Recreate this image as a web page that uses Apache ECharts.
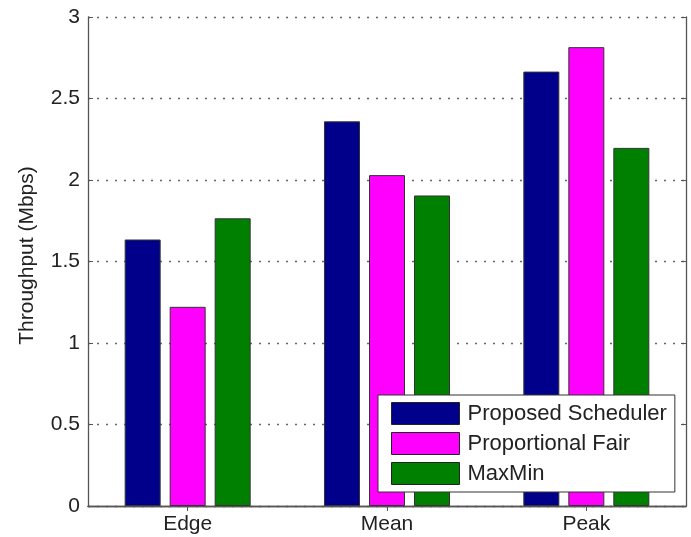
<!DOCTYPE html>
<html>
<head>
<meta charset="utf-8">
<script src="https://cdn.jsdelivr.net/npm/echarts@6/dist/echarts.min.js"></script>
<style>
html,body{margin:0;padding:0;background:#fff;}
#chart{width:691px;height:537px;}
</style>
</head>
<body>
<div id="chart"></div>
<script>
const categories = ['Edge', 'Mean', 'Peak'];
const seriesNames = ['Proposed Scheduler', 'Proportional Fair', 'MaxMin'];
const proposed = [1.635, 2.36, 2.665];
const propFair = [1.222, 2.03, 2.815];
const maxMin = [1.765, 1.905, 2.197];
const yTicks = [0, 0.5, 1, 1.5, 2, 2.5, 3];
const colors = ['#00008B', '#FF00FF', '#008000'];

const font = "'Liberation Sans', Arial, sans-serif";
const chart = echarts.init(document.getElementById('chart'), null, {renderer: 'canvas'});

const values = [proposed, propFair, maxMin];
const series = seriesNames.map((name, i) => ({
  name: name,
  type: 'bar',
  xAxisIndex: 0,
  yAxisIndex: 0,
  data: values[i],
  barWidth: 36,
  barGap: '25%',
  itemStyle: {color: colors[i], borderColor: '#333', borderWidth: 1},
  emphasis: {disabled: true}
}));

const option = {
  animation: false,
  backgroundColor: '#fff',
  textStyle: {fontFamily: font},
  grid: {left: 88, right: 5, top: 17, bottom: 31, containLabel: false},
  legend: {
    orient: 'vertical',
    left: 378,
    top: 395,
    data: seriesNames,
    icon: 'rect',
    itemWidth: 68,
    itemHeight: 22,
    itemGap: 7,
    padding: [7, 8, 7, 13],
    backgroundColor: '#fff',
    borderColor: '#333',
    borderWidth: 1,
    itemStyle: {borderColor: '#222', borderWidth: 1},
    textStyle: {fontFamily: font, fontSize: 22, color: '#222', padding: [0, 0, 0, 3]}
  },
  xAxis: [{
    type: 'category',
    data: categories,
    position: 'bottom',
    axisLine: {lineStyle: {color: '#555', width: 1.3}},
    axisTick: {show: false},
    axisLabel: {fontFamily: font, fontSize: 21, color: '#222', margin: 8},
    splitLine: {show: false}
  }, {
    type: 'category',
    data: categories,
    position: 'top',
    axisLine: {lineStyle: {color: '#555', width: 1.3}},
    axisTick: {show: true, inside: true, alignWithLabel: true, length: 5, lineStyle: {color: '#555'}},
    axisLabel: {show: false},
    splitLine: {show: false}
  }],
  yAxis: [{
    type: 'value',
    min: 0,
    max: 3,
    interval: 0.5,
    name: 'Throughput (Mbps)',
    nameLocation: 'middle',
    nameGap: 50,
    nameTextStyle: {fontFamily: font, fontSize: 21, color: '#222', padding: [0, 0, 0, 12]},
    axisLine: {show: true, lineStyle: {color: '#555', width: 1.3}},
    axisTick: {show: true, inside: true, length: 5, lineStyle: {color: '#555'}},
    axisLabel: {fontFamily: font, fontSize: 21, color: '#222', margin: 8,
      formatter: v => String(yTicks.find(t => Math.abs(t - v) < 1e-9) ?? v)},
    splitLine: {show: true, lineStyle: {color: '#666', width: 1.3, type: [2, 7]}}
  }, {
    type: 'value',
    min: 0,
    max: 3,
    interval: 0.5,
    position: 'right',
    axisLine: {show: true, lineStyle: {color: '#555', width: 1.3}},
    axisTick: {show: true, inside: true, length: 5, lineStyle: {color: '#555'}},
    axisLabel: {show: false},
    splitLine: {show: false}
  }],
  series: series
};
chart.setOption(option);
</script>
</body>
</html>
